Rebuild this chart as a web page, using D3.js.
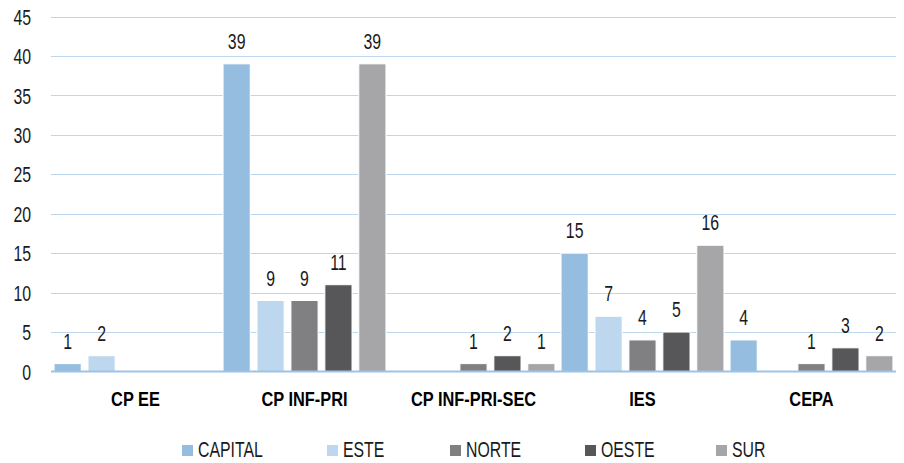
<!DOCTYPE html>
<html>
<head>
<meta charset="utf-8">
<script src="https://cdn.jsdelivr.net/npm/d3@7"></script>
<style>
  body { margin: 0; background: #fff; }
  svg text { font-family: "Liberation Sans", Arial, sans-serif; fill: #1a1a1a; }
  .grid line { stroke: #bdd7ee; stroke-width: 1; }
  .cat { font-weight: bold; font-size: 21px; fill: #000; }
</style>
</head>
<body>
<svg id="chart" width="904" height="463"></svg>
<script>
const categories = ["CP EE", "CP INF-PRI", "CP INF-PRI-SEC", "IES", "CEPA"];
const seriesNames = ["CAPITAL", "ESTE", "NORTE", "OESTE", "SUR"];
const capital = [1, 39, 0, 15, 4];
const este = [2, 9, 0, 7, 0];
const norte = [0, 9, 1, 4, 1];
const oeste = [0, 11, 2, 5, 3];
const sur = [0, 39, 1, 16, 2];
const yTicks = [0, 5, 10, 15, 20, 25, 30, 35, 40, 45];
const colors = ["#95bddf", "#bdd7ee", "#808083", "#575759", "#a6a6a8"];

const seriesValues = [capital, este, norte, oeste, sur];
// the original font is a tall narrow face, so squeeze Liberation Sans
const squeeze = "scale(0.72,1)";
const squeezeBold = "scale(0.78,1)";

const svg = d3.select("#chart");
const plotLeft = 51, plotRight = 896, plotTop = 16.5, plotBottom = 371.5;

const x = d3.scaleBand().domain(categories).range([plotLeft, plotRight]);
const xs = d3.scaleBand().domain(seriesNames).range([0, x.bandwidth()])
  .paddingInner(0.2).paddingOuter(0.09);
const y = d3.scaleLinear().domain([0, 45]).range([plotBottom, plotTop]);

// gridlines
svg.append("g").attr("class", "grid")
  .selectAll("line").data(yTicks.filter(d => d > 0)).join("line")
  .attr("x1", plotLeft).attr("x2", plotRight)
  .attr("y1", d => Math.round(y(d)) + 0.5).attr("y2", d => Math.round(y(d)) + 0.5);

// y labels
const yAxis = d3.axisLeft(y).tickValues(yTicks).tickSize(0).tickPadding(0);
const ya = svg.append("g").attr("transform", `translate(31,0)`).call(yAxis);
ya.select(".domain").remove();
ya.selectAll("text").attr("font-size", 22).style("font-family", null)
  .attr("fill", "#1a1a1a").attr("dy", "0.35em").attr("transform", squeeze);

// bars
const rows = [];
categories.forEach((c, i) => {
  seriesNames.forEach((s, j) => {
    rows.push({cat: c, ser: s, val: seriesValues[j][i], color: colors[j]});
  });
});

svg.append("g").selectAll("rect").data(rows.filter(d => d.val > 0)).join("rect")
  .attr("x", d => x(d.cat) + xs(d.ser))
  .attr("y", d => y(d.val))
  .attr("width", xs.bandwidth())
  .attr("height", d => y(0) - y(d.val))
  .attr("fill", d => d.color)
  .attr("stroke", "#fff")
  .attr("stroke-width", 1);

// value labels
svg.append("g").selectAll("text").data(rows.filter(d => d.val > 0)).join("text")
  .attr("transform", d => `translate(${x(d.cat) + xs(d.ser) + xs.bandwidth() / 2},${y(d.val) - 15}) ${squeeze}`)
  .attr("text-anchor", "middle")
  .attr("font-size", 22)
  .text(d => d.val);

// baseline
svg.append("line")
  .attr("x1", plotLeft).attr("x2", plotRight)
  .attr("y1", y(0)).attr("y2", y(0))
  .attr("stroke", "#9dc3e6").attr("stroke-width", 2);

// category labels
const xAxis = d3.axisBottom(x).tickSize(0).tickPadding(0);
const xa = svg.append("g").attr("transform", `translate(0,${plotBottom})`).call(xAxis);
xa.select(".domain").remove();
xa.selectAll("text").attr("class", "cat").attr("dy", null).attr("y", 35)
  .style("font-family", null).attr("fill", "#000").attr("transform", squeezeBold);

// legend
const legendX = [182, 327, 450, 585, 716];
const lg = svg.append("g").selectAll("g").data(seriesNames).join("g")
  .attr("transform", (d, i) => `translate(${legendX[i]},445)`);
lg.append("rect").attr("width", 11).attr("height", 11).attr("fill", (d, i) => colors[i]);
lg.append("text").attr("transform", `translate(16,12) ${squeeze}`).attr("font-size", 22).text(d => d);
</script>
</body>
</html>
